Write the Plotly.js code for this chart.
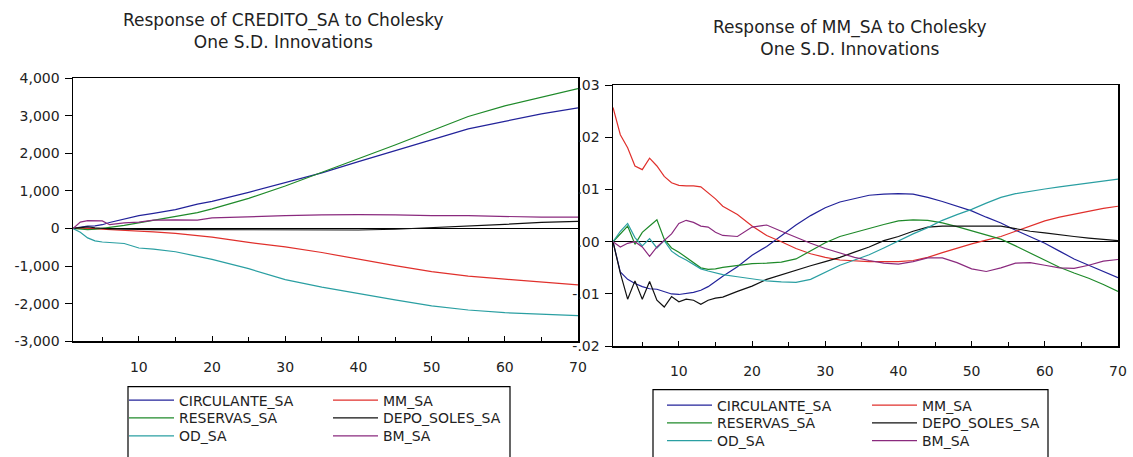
<!DOCTYPE html>
<html>
<head>
<meta charset="utf-8">
<script src="https://cdn.plot.ly/plotly-3.0.1.min.js"></script>
<style>html,body{margin:0;padding:0;background:#fff;}#chart{width:1133px;height:457px;}</style>
</head>
<body>
<div id="chart"></div>
<script>
// ---------- DATA ----------
var seriesNames = ["CIRCULANTE_SA", "MM_SA", "RESERVAS_SA", "DEPO_SOLES_SA", "OD_SA", "BM_SA"];

// Left panel: Response of CREDITO_SA
var periodsCredito = [1,2,3,4,5,6,8,10,12,15,18,20,25,30,35,40,45,50,55,60,65,70];
var credCirculante = [0,40,60,70,100,160,250,340,400,500,650,720,960,1230,1480,1780,2070,2380,2650,2850,3050,3210];
var credMM         = [0,10,0,-10,-20,-30,-40,-60,-90,-130,-180,-230,-370,-490,-640,-820,-990,-1150,-1270,-1350,-1430,-1500];
var credReservas   = [0,-20,-30,-20,0,30,80,150,220,320,420,520,800,1130,1490,1840,2220,2600,2980,3260,3500,3720];
var credDepo       = [0,30,40,20,0,-10,-20,-30,-30,-30,-30,-40,-40,-40,-45,-40,-20,20,60,110,160,190];
var credOD         = [0,-100,-250,-330,-360,-370,-400,-520,-550,-620,-750,-820,-1070,-1360,-1560,-1740,-1900,-2060,-2170,-2240,-2290,-2320];
var credBM         = [0,170,210,210,200,100,150,170,220,230,220,280,320,340,360,370,360,340,340,320,300,300];

// Right panel: Response of MM_SA
var periodsMM = [1,2,3,4,5,6,7,8,9,10,11,12,13,14,15,16,18,20,22,24,26,28,30,32,34,36,38,40,42,44,46,48,50,52,54,56,58,60,62,64,66,68,70];
var mmCirculante = [0,-0.0058,-0.0072,-0.008,-0.0086,-0.009,-0.0091,-0.0095,-0.01,-0.0101,-0.0099,-0.0097,-0.0093,-0.0086,-0.0076,-0.0066,
  -0.0048,-0.0026,-0.0009,0.0012,0.0032,0.005,0.0065,0.0076,0.0083,0.0089,0.0091,0.0092,0.0091,0.0085,0.0077,0.0068,0.0059,0.0047,0.0036,0.0022,0.001,-0.0003,-0.0018,-0.0033,-0.0045,-0.0057,-0.0069];
var mmMM = [0.0257,0.0205,0.018,0.0145,0.0138,0.016,0.0145,0.0125,0.0113,0.0108,0.0107,0.0107,0.0105,0.0093,0.0082,0.0068,
  0.0052,0.003,0.0012,0,-0.0013,-0.0023,-0.003,-0.0035,-0.0037,-0.0038,-0.0038,-0.0038,-0.0036,-0.003,-0.0021,-0.0012,-0.0004,0.0003,0.001,0.002,0.003,0.004,0.0047,0.0053,0.0059,0.0064,0.0068];
var mmReservas = [0,0.0015,0.003,-0.0005,0.0018,0.003,0.0042,0.0005,-0.0012,-0.002,-0.003,-0.004,-0.005,-0.0053,-0.0052,-0.0049,
  -0.0046,-0.0042,-0.0041,-0.0039,-0.0033,-0.0018,-0.0002,0.001,0.0018,0.0025,0.0033,0.004,0.0042,0.0041,0.0036,0.0029,0.0021,0.0013,0.0005,-0.0008,-0.0022,-0.0036,-0.0049,-0.006,-0.007,-0.0082,-0.0095];
var mmDepo = [0,-0.006,-0.011,-0.0075,-0.011,-0.0076,-0.0112,-0.0125,-0.0105,-0.0115,-0.011,-0.0112,-0.012,-0.0112,-0.0108,-0.0106,
  -0.0095,-0.0085,-0.0072,-0.0063,-0.0055,-0.0046,-0.0038,-0.003,-0.002,-0.001,0.0002,0.001,0.002,0.0028,0.003,0.003,0.003,0.003,0.003,0.0025,0.002,0.0017,0.0013,0.001,0.0007,0.0004,0.0002];
var mmOD = [0,0.002,0.0035,0.0008,-0.0008,0.0006,-0.0012,0.0002,-0.0018,-0.0028,-0.0035,-0.0043,-0.0052,-0.0056,-0.006,-0.0063,
  -0.0067,-0.0071,-0.0075,-0.0077,-0.0078,-0.0072,-0.0058,-0.0045,-0.0035,-0.0025,-0.0012,0.0002,0.0015,0.0027,0.0041,0.0052,0.0062,0.0074,0.0085,0.0092,0.0097,0.0101,0.0105,0.0109,0.0113,0.0117,0.012];
var mmBM = [0,-0.001,-0.0003,0,-0.001,-0.0028,-0.001,0.0003,0.0015,0.0035,0.0041,0.0037,0.003,0.0028,0.0018,0.0012,
  0.001,0.0028,0.0032,0.002,0.0008,-0.0003,-0.0013,-0.0022,-0.003,-0.0036,-0.0041,-0.0043,-0.0038,-0.0031,-0.0031,-0.004,-0.0052,-0.0057,-0.005,-0.0041,-0.004,-0.0045,-0.005,-0.0051,-0.0045,-0.0037,-0.0034];

// Tick labels
var leftTickVals  = [-3000,-2000,-1000,0,1000,2000,3000,4000];
var leftTickText  = ["-3,000","-2,000","-1,000","0","1,000","2,000","3,000","4,000"];
var rightTickVals = [-0.02,-0.01,0,0.01,0.02,0.03];
var rightTickText = ["-.02","-.01",".00",".01",".02",".03"];
var xTickVals = [10,20,30,40,50,60,70];

var titleLeft  = "Response of CREDITO_SA to Cholesky<br>One S.D. Innovations";
var titleRight = "Response of MM_SA to Cholesky<br>One S.D. Innovations";

// ---------- STYLE ----------
var colors = {"CIRCULANTE_SA":"#23239a","MM_SA":"#e0302c","RESERVAS_SA":"#1f8a2a","DEPO_SOLES_SA":"#111111","OD_SA":"#2a9fa2","BM_SA":"#8a2a7e"};
var FONT = "DejaVu Sans, Verdana, sans-serif";
var W = 1133, H = 457;
function px(x){return x/W;}
function py(y){return 1 - y/H;}

var leftData  = [credCirculante, credMM, credReservas, credDepo, credOD, credBM];
var rightData = [mmCirculante, mmMM, mmReservas, mmDepo, mmOD, mmBM];

// legend grid: 2 columns x 3 rows (col = i % 2, row = floor(i/2))
var leftLegendX  = [124, 328];
var leftLegendY  = [405, 423, 441];
var rightLegendX = [662, 867];
var rightLegendY = [410, 428, 446];

var traces = [];
var legends = {};
function legendAt(xPix, yPix){
  return {x:px(xPix), y:py(yPix), xref:"paper", yref:"paper", xanchor:"left", yanchor:"middle", orientation:"v",
    bgcolor:"rgba(0,0,0,0)", borderwidth:0, itemwidth:45, font:{family:FONT,size:14,color:"#222"},
    tracegroupgap:0, itemclick:false, itemdoubleclick:false};
}
seriesNames.forEach(function(n,i){
  var id = "legend" + (i === 0 ? "" : (i+1));
  legends[id] = legendAt(leftLegendX[i%2], leftLegendY[Math.floor(i/2)]);
  traces.push({type:"scatter",mode:"lines",name:n,x:periodsCredito,y:leftData[i],xaxis:"x",yaxis:"y",
    line:{color:colors[n],width:1.2},legend:id,hoverinfo:"skip"});
});
seriesNames.forEach(function(n,i){
  var id = "legend" + (i+7);
  legends[id] = legendAt(rightLegendX[i%2], rightLegendY[Math.floor(i/2)]);
  traces.push({type:"scatter",mode:"lines",name:n,x:periodsMM,y:rightData[i],xaxis:"x2",yaxis:"y2",
    line:{color:colors[n],width:1.2},legend:id,hoverinfo:"skip"});
});

function xAxis(domain, anchor){
  return {domain:domain, anchor:anchor, range:[1,70], tickvals:xTickVals, ticks:"inside", ticklen:5, tickcolor:"#000",
    showline:true, linecolor:"#000", linewidth:1.5, mirror:true, showgrid:false, zeroline:false,
    minor:{dtick:5, tick0:0, ticks:"inside", ticklen:4, tickcolor:"#000"}, ticklabelstandoff:12,
    tickfont:{family:FONT,size:14,color:"#222"}, fixedrange:true};
}
function yAxis(domain, anchor, range, vals, text){
  return {domain:domain, anchor:anchor, range:range, tickvals:vals, ticktext:text, ticks:"outside", ticklen:7, tickcolor:"#000",
    showline:true, linecolor:"#000", linewidth:1.5, mirror:true, showgrid:false,
    zeroline:true, zerolinecolor:"#000", zerolinewidth:1.2, ticklabelstandoff:2,
    tickfont:{family:FONT,size:14,color:"#222"}, fixedrange:true};
}

var layout = {
  width:W, height:H, margin:{l:0,r:0,t:0,b:0}, paper_bgcolor:"#fff", plot_bgcolor:"#fff",
  xaxis: xAxis([px(73), px(578)], "y"),
  yaxis: yAxis([py(345), py(79)], "x", [-3000,4000], leftTickVals, leftTickText),
  xaxis2: xAxis([px(613), px(1118)], "y2"),
  yaxis2: yAxis([py(350), py(86)], "x2", [-0.02,0.03], rightTickVals, rightTickText),
  showlegend:true,
  annotations:[
    {text:titleLeft, x:px(283), y:py(31), xref:"paper", yref:"paper", showarrow:false, xanchor:"center", yanchor:"middle",
     font:{family:FONT,size:17,color:"#222"}},
    {text:titleRight, x:px(850), y:py(38), xref:"paper", yref:"paper", showarrow:false, xanchor:"center", yanchor:"middle",
     font:{family:FONT,size:17,color:"#222"}}
  ],
  shapes:[
    {type:"rect", xref:"paper", yref:"paper", x0:px(128), x1:px(510), y0:py(470), y1:py(391), line:{color:"#000",width:1.2}, fillcolor:"rgba(0,0,0,0)"},
    {type:"rect", xref:"paper", yref:"paper", x0:px(653), x1:px(1048), y0:py(470), y1:py(394), line:{color:"#000",width:1.2}, fillcolor:"rgba(0,0,0,0)"}
  ]
};
Object.keys(legends).forEach(function(k){ layout[k] = legends[k]; });

Plotly.newPlot("chart", traces, layout, {staticPlot:true, displayModeBar:false});
</script>
</body>
</html>
